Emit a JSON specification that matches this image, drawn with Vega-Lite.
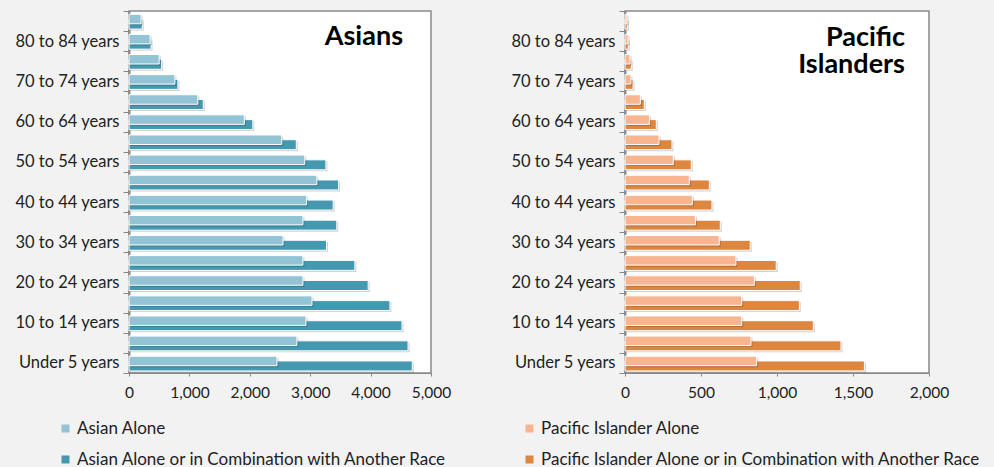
{
  "$schema": "https://vega.github.io/schema/vega-lite/v6.json",
  "background": "#f2f2f2",
  "padding": {"left": 13, "top": 2, "right": 14, "bottom": 0},
  "autosize": {"type": "pad"},
  "spacing": 57,
  "config": {
    "font": "Lato",
    "view": {"fill": "white", "stroke": "#8a8a8a", "strokeWidth": 1.5},
    "axisY": {"domainColor": "#888", "domainWidth": 2, "tickColor": "#888", "tickSize": 6, "tickBand": "extent", "labelFontSize": 16.5, "labelColor": "#222", "labelPadding": 4, "title": null, "minExtent": 110, "maxExtent": 110, "grid": false},
    "axisX": {"domainColor": "#888", "tickColor": "#888", "tickSize": 3, "labelFontSize": 15.5, "labelColor": "#222", "labelPadding": 9, "labelFlush": false, "labelOverlap": false, "title": null, "grid": false},
    "legend": {"labelFontSize": 17, "labelColor": "#222", "labelLimit": 0, "symbolType": "square", "symbolSize": 64, "rowPadding": 13, "labelOffset": 3, "padding": 0, "title": null, "orient": "none", "direction": "vertical", "symbolStrokeWidth": 0},
    "title": {"anchor": "end", "frame": "group", "fontSize": 27, "fontWeight": "bold", "color": "#000", "font": "Lato", "baseline": "alphabetic"}
  },
  "datasets": {
    "asian": [
      {"age": "Under 5 years", "type": "Asian Alone or in Combination with Another Race", "value": 4690},
      {"age": "5 to 9 years", "type": "Asian Alone or in Combination with Another Race", "value": 4620},
      {"age": "10 to 14 years", "type": "Asian Alone or in Combination with Another Race", "value": 4520},
      {"age": "15 to 19 years", "type": "Asian Alone or in Combination with Another Race", "value": 4320},
      {"age": "20 to 24 years", "type": "Asian Alone or in Combination with Another Race", "value": 3960},
      {"age": "25 to 29 years", "type": "Asian Alone or in Combination with Another Race", "value": 3740},
      {"age": "30 to 34 years", "type": "Asian Alone or in Combination with Another Race", "value": 3270},
      {"age": "35 to 39 years", "type": "Asian Alone or in Combination with Another Race", "value": 3440},
      {"age": "40 to 44 years", "type": "Asian Alone or in Combination with Another Race", "value": 3380},
      {"age": "45 to 49 years", "type": "Asian Alone or in Combination with Another Race", "value": 3470},
      {"age": "50 to 54 years", "type": "Asian Alone or in Combination with Another Race", "value": 3260},
      {"age": "55 to 59 years", "type": "Asian Alone or in Combination with Another Race", "value": 2770},
      {"age": "60 to 64 years", "type": "Asian Alone or in Combination with Another Race", "value": 2050},
      {"age": "65 to 69 years", "type": "Asian Alone or in Combination with Another Race", "value": 1230},
      {"age": "70 to 74 years", "type": "Asian Alone or in Combination with Another Race", "value": 810},
      {"age": "75 to 79 years", "type": "Asian Alone or in Combination with Another Race", "value": 540},
      {"age": "80 to 84 years", "type": "Asian Alone or in Combination with Another Race", "value": 365},
      {"age": "85 years and over", "type": "Asian Alone or in Combination with Another Race", "value": 220},
      {"age": "Under 5 years", "type": "Asian Alone", "value": 2450},
      {"age": "5 to 9 years", "type": "Asian Alone", "value": 2780},
      {"age": "10 to 14 years", "type": "Asian Alone", "value": 2930},
      {"age": "15 to 19 years", "type": "Asian Alone", "value": 3030},
      {"age": "20 to 24 years", "type": "Asian Alone", "value": 2880},
      {"age": "25 to 29 years", "type": "Asian Alone", "value": 2880},
      {"age": "30 to 34 years", "type": "Asian Alone", "value": 2550},
      {"age": "35 to 39 years", "type": "Asian Alone", "value": 2880},
      {"age": "40 to 44 years", "type": "Asian Alone", "value": 2940},
      {"age": "45 to 49 years", "type": "Asian Alone", "value": 3110},
      {"age": "50 to 54 years", "type": "Asian Alone", "value": 2910},
      {"age": "55 to 59 years", "type": "Asian Alone", "value": 2530},
      {"age": "60 to 64 years", "type": "Asian Alone", "value": 1910},
      {"age": "65 to 69 years", "type": "Asian Alone", "value": 1140},
      {"age": "70 to 74 years", "type": "Asian Alone", "value": 760},
      {"age": "75 to 79 years", "type": "Asian Alone", "value": 500},
      {"age": "80 to 84 years", "type": "Asian Alone", "value": 350},
      {"age": "85 years and over", "type": "Asian Alone", "value": 200}
    ],
    "pacific": [
      {"age": "Under 5 years", "type": "Pacific Islander Alone or in Combination with Another Race", "value": 1575},
      {"age": "5 to 9 years", "type": "Pacific Islander Alone or in Combination with Another Race", "value": 1421},
      {"age": "10 to 14 years", "type": "Pacific Islander Alone or in Combination with Another Race", "value": 1239},
      {"age": "15 to 19 years", "type": "Pacific Islander Alone or in Combination with Another Race", "value": 1147},
      {"age": "20 to 24 years", "type": "Pacific Islander Alone or in Combination with Another Race", "value": 1153},
      {"age": "25 to 29 years", "type": "Pacific Islander Alone or in Combination with Another Race", "value": 995},
      {"age": "30 to 34 years", "type": "Pacific Islander Alone or in Combination with Another Race", "value": 824},
      {"age": "35 to 39 years", "type": "Pacific Islander Alone or in Combination with Another Race", "value": 627},
      {"age": "40 to 44 years", "type": "Pacific Islander Alone or in Combination with Another Race", "value": 572},
      {"age": "45 to 49 years", "type": "Pacific Islander Alone or in Combination with Another Race", "value": 555},
      {"age": "50 to 54 years", "type": "Pacific Islander Alone or in Combination with Another Race", "value": 436},
      {"age": "55 to 59 years", "type": "Pacific Islander Alone or in Combination with Another Race", "value": 309},
      {"age": "60 to 64 years", "type": "Pacific Islander Alone or in Combination with Another Race", "value": 206},
      {"age": "65 to 69 years", "type": "Pacific Islander Alone or in Combination with Another Race", "value": 127},
      {"age": "70 to 74 years", "type": "Pacific Islander Alone or in Combination with Another Race", "value": 53},
      {"age": "75 to 79 years", "type": "Pacific Islander Alone or in Combination with Another Race", "value": 41},
      {"age": "80 to 84 years", "type": "Pacific Islander Alone or in Combination with Another Race", "value": 22},
      {"age": "85 years and over", "type": "Pacific Islander Alone or in Combination with Another Race", "value": 15},
      {"age": "Under 5 years", "type": "Pacific Islander Alone", "value": 866},
      {"age": "5 to 9 years", "type": "Pacific Islander Alone", "value": 829},
      {"age": "10 to 14 years", "type": "Pacific Islander Alone", "value": 768},
      {"age": "15 to 19 years", "type": "Pacific Islander Alone", "value": 768},
      {"age": "20 to 24 years", "type": "Pacific Islander Alone", "value": 851},
      {"age": "25 to 29 years", "type": "Pacific Islander Alone", "value": 730},
      {"age": "30 to 34 years", "type": "Pacific Islander Alone", "value": 620},
      {"age": "35 to 39 years", "type": "Pacific Islander Alone", "value": 463},
      {"age": "40 to 44 years", "type": "Pacific Islander Alone", "value": 443},
      {"age": "45 to 49 years", "type": "Pacific Islander Alone", "value": 423},
      {"age": "50 to 54 years", "type": "Pacific Islander Alone", "value": 318},
      {"age": "55 to 59 years", "type": "Pacific Islander Alone", "value": 224},
      {"age": "60 to 64 years", "type": "Pacific Islander Alone", "value": 162},
      {"age": "65 to 69 years", "type": "Pacific Islander Alone", "value": 101},
      {"age": "70 to 74 years", "type": "Pacific Islander Alone", "value": 39},
      {"age": "75 to 79 years", "type": "Pacific Islander Alone", "value": 33},
      {"age": "80 to 84 years", "type": "Pacific Islander Alone", "value": 20},
      {"age": "85 years and over", "type": "Pacific Islander Alone", "value": 13}
    ]
  },
  "resolve": {"scale": {"color": "independent", "x": "independent"}, "legend": {"color": "independent"}},
  "hconcat": [
    {
      "width": 302,
      "height": 362,
      "title": {"text": "Asians", "offset": -48, "dx": -28},
      "data": {"name": "asian"},
      "encoding": {
        "y": {"field": "age", "type": "nominal", "sort": ["85 years and over", "80 to 84 years", "75 to 79 years", "70 to 74 years", "65 to 69 years", "60 to 64 years", "55 to 59 years", "50 to 54 years", "45 to 49 years", "40 to 44 years", "35 to 39 years", "30 to 34 years", "25 to 29 years", "20 to 24 years", "15 to 19 years", "10 to 14 years", "5 to 9 years", "Under 5 years"], "scale": {"paddingInner": 0, "paddingOuter": 0}, "axis": {"labelExpr": "indexof(['Under 5 years','10 to 14 years','20 to 24 years','30 to 34 years','40 to 44 years','50 to 54 years','60 to 64 years','70 to 74 years','80 to 84 years'], datum.value) >= 0 ? datum.value : ''"}},
        "x": {"field": "value", "type": "quantitative", "scale": {"domain": [0, 5000], "nice": false}, "axis": {"values": [0, 1000, 2000, 3000, 4000, 5000], "format": ",d"}},
        "color": {"field": "type", "type": "nominal", "scale": {"domain": ["Asian Alone", "Asian Alone or in Combination with Another Race"], "range": ["#93c4d5", "#4499b1"]}, "legend": {"legendX": -72, "legendY": 409}}
      },
      "layer": [
        {"transform": [{"filter": "datum.type === 'Asian Alone or in Combination with Another Race'"}], "mark": {"type": "bar", "height": 10, "yOffset": 4.5, "xOffset": 1.5, "opacity": 0.18}, "encoding": {"color": {"value": "#000"}}},
        {"transform": [{"filter": "datum.type === 'Asian Alone or in Combination with Another Race'"}], "mark": {"type": "bar", "height": 10, "yOffset": 3, "stroke": "white", "strokeWidth": 1}},
        {"transform": [{"filter": "datum.type === 'Asian Alone'"}], "mark": {"type": "bar", "height": 9.5, "yOffset": -0.5, "xOffset": 1.5, "opacity": 0.18}, "encoding": {"color": {"value": "#000"}}},
        {"transform": [{"filter": "datum.type === 'Asian Alone'"}], "mark": {"type": "bar", "height": 9.5, "yOffset": -2, "stroke": "white", "strokeWidth": 1}}
      ]
    },
    {
      "width": 304,
      "height": 362,
      "title": {"text": ["Pacific", "Islanders"], "offset": -76, "dx": -24, "lineHeight": 27},
      "data": {"name": "pacific"},
      "encoding": {
        "y": {"field": "age", "type": "nominal", "sort": ["85 years and over", "80 to 84 years", "75 to 79 years", "70 to 74 years", "65 to 69 years", "60 to 64 years", "55 to 59 years", "50 to 54 years", "45 to 49 years", "40 to 44 years", "35 to 39 years", "30 to 34 years", "25 to 29 years", "20 to 24 years", "15 to 19 years", "10 to 14 years", "5 to 9 years", "Under 5 years"], "scale": {"paddingInner": 0, "paddingOuter": 0}, "axis": {"labelExpr": "indexof(['Under 5 years','10 to 14 years','20 to 24 years','30 to 34 years','40 to 44 years','50 to 54 years','60 to 64 years','70 to 74 years','80 to 84 years'], datum.value) >= 0 ? datum.value : ''"}},
        "x": {"field": "value", "type": "quantitative", "scale": {"domain": [0, 2000], "nice": false}, "axis": {"values": [0, 500, 1000, 1500, 2000], "format": ",d"}},
        "color": {"field": "type", "type": "nominal", "scale": {"domain": ["Pacific Islander Alone", "Pacific Islander Alone or in Combination with Another Race"], "range": ["#f8b590", "#dd8640"]}, "legend": {"legendX": -104, "legendY": 409}}
      },
      "layer": [
        {"transform": [{"filter": "datum.type === 'Pacific Islander Alone or in Combination with Another Race'"}], "mark": {"type": "bar", "height": 10, "yOffset": 4.5, "xOffset": 1.5, "opacity": 0.18}, "encoding": {"color": {"value": "#000"}}},
        {"transform": [{"filter": "datum.type === 'Pacific Islander Alone or in Combination with Another Race'"}], "mark": {"type": "bar", "height": 10, "yOffset": 3, "stroke": "white", "strokeWidth": 1}},
        {"transform": [{"filter": "datum.type === 'Pacific Islander Alone'"}], "mark": {"type": "bar", "height": 9.5, "yOffset": -0.5, "xOffset": 1.5, "opacity": 0.18}, "encoding": {"color": {"value": "#000"}}},
        {"transform": [{"filter": "datum.type === 'Pacific Islander Alone'"}], "mark": {"type": "bar", "height": 9.5, "yOffset": -2, "stroke": "white", "strokeWidth": 1}}
      ]
    }
  ]
}
